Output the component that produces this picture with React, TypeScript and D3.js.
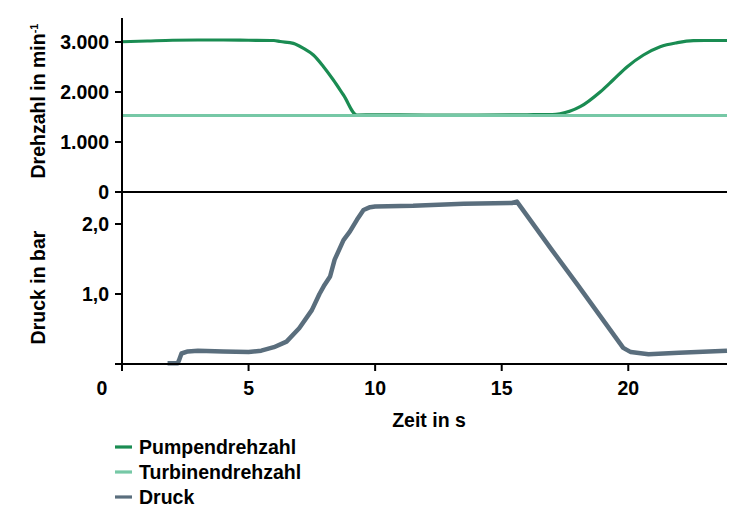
import React from "react";
import * as d3 from "d3";

const xTicks = [0, 5, 10, 15, 20];
const topTicks = [0, 1000, 2000, 3000];
const topTickLabels = ["0", "1.000", "2.000", "3.000"];
const bottomTicks = [0, 1, 2];
const bottomTickLabels = ["", "1,0", "2,0"];

const pumpT = [0, 1, 2, 3, 4, 5, 6, 6.25, 6.77, 7.17, 7.56, 7.96, 8.35, 8.75, 9.28, 10, 12, 14, 16, 17.0, 17.3, 18.1, 18.9, 19.4, 19.96, 20.6, 21.26, 21.94, 22.57, 23.0, 23.9];
const pumpV = [3005, 3020, 3035, 3040, 3040, 3035, 3030, 3010, 2973, 2873, 2740, 2506, 2240, 1940, 1540, 1545, 1540, 1540, 1545, 1550, 1565, 1706, 2006, 2240, 2506, 2740, 2906, 2986, 3026, 3030, 3030];

const turbT = [0, 23.9];
const turbV = [1530, 1530];

const druckT = [1.8, 2.2, 2.25, 2.35, 2.6, 3, 4, 5, 5.5, 6, 6.5, 7, 7.5, 7.8, 8.0, 8.22, 8.4, 8.75, 9.0, 9.28, 9.54, 9.8, 10, 11.5, 13.5, 15.4, 15.6, 16.1, 17, 18, 19, 19.5, 19.8, 20.1, 20.8, 22, 23.9];
const druckV = [0.01, 0.01, 0.05, 0.15, 0.18, 0.19, 0.18, 0.17, 0.19, 0.24, 0.32, 0.51, 0.77, 1.0, 1.13, 1.25, 1.49, 1.77, 1.89, 2.06, 2.2, 2.24, 2.25, 2.26, 2.29, 2.3, 2.32, 2.07, 1.62, 1.13, 0.63, 0.38, 0.23, 0.17, 0.14, 0.16, 0.19];

const legendNames = ["Pumpendrehzahl", "Turbinendrehzahl", "Druck"];
const legendColors = ["#1a8c52", "#76c8a6", "#5a6e7d"];

const FONT = "'Liberation Sans', Arial, Helvetica, sans-serif";
const FS = 19.5;

export default function App() {
  const x = d3.scaleLinear().domain([0, 23.9]).range([122, 727]);
  const yTop = d3.scaleLinear().domain([0, 3480]).range([192, 18]);
  const yBot = d3.scaleLinear().domain([0, 2.457]).range([364, 192]);

  const mk = (ts: number[], vs: number[], ys: d3.ScaleLinear<number, number>, curve: d3.CurveFactory) =>
    d3
      .line<number>()
      .x((t) => x(t))
      .y((_, i) => ys(vs[i]))
      .curve(curve)(ts) as string;

  const pumpPath = mk(pumpT, pumpV, yTop, d3.curveMonotoneX);
  const turbPath = mk(turbT, turbV, yTop, d3.curveLinear);
  const druckPath = mk(druckT, druckV, yBot, d3.curveLinear);

  const x0 = x(0);
  const xEnd = x(23.9);

  return (
    <svg
      width={730}
      height={508}
      style={{ position: "absolute", left: 0, top: 0, background: "#fff" }}
      fontFamily={FONT}
      fontWeight="bold"
    >
      <path d={pumpPath} fill="none" stroke={legendColors[0]} strokeWidth={3.2} strokeLinejoin="round" />
      <path d={turbPath} fill="none" stroke={legendColors[1]} strokeWidth={3.2} />
      <path d={druckPath} fill="none" stroke={legendColors[2]} strokeWidth={4.5} strokeLinejoin="round" />

      <line x1={x0} x2={x0} y1={yTop(3480)} y2={371} stroke="#000" strokeWidth={2} />
      <line x1={115} x2={xEnd} y1={yTop(0)} y2={yTop(0)} stroke="#000" strokeWidth={2} />
      <line x1={115} x2={xEnd} y1={yBot(0)} y2={yBot(0)} stroke="#000" strokeWidth={2} />

      {topTicks.map((t, i) => (
        <g key={"tt" + i}>
          <line x1={115} x2={x0} y1={yTop(t)} y2={yTop(t)} stroke="#000" strokeWidth={2} />
          <text x={109} y={yTop(t)} dy="0.36em" textAnchor="end" fontSize={FS}>
            {topTickLabels[i]}
          </text>
        </g>
      ))}
      {bottomTicks.map((t, i) => (
        <g key={"bt" + i}>
          <line x1={115} x2={x0} y1={yBot(t)} y2={yBot(t)} stroke="#000" strokeWidth={2} />
          <text x={109} y={yBot(t)} dy="0.36em" textAnchor="end" fontSize={FS}>
            {bottomTickLabels[i]}
          </text>
        </g>
      ))}
      {xTicks.map((t) => (
        <g key={"xt" + t}>
          <line x1={x(t)} x2={x(t)} y1={yBot(0)} y2={371} stroke="#000" strokeWidth={2} />
          <text x={t === 0 ? x(t) - 20 : x(t)} y={395} textAnchor="middle" fontSize={FS}>
            {t}
          </text>
        </g>
      ))}

      <text x={429} y={427} textAnchor="middle" fontSize={FS}>
        Zeit in s
      </text>
      <text transform="translate(45,101) rotate(-90)" textAnchor="middle" fontSize={FS}>
        Drehzahl in min
        <tspan fontSize={11} dy={-7}>
          -1
        </tspan>
      </text>
      <text transform="translate(45,287.5) rotate(-90)" textAnchor="middle" fontSize={FS}>
        Druck in bar
      </text>

      {legendNames.map((n, i) => (
        <g key={n}>
          <line x1={115} x2={132} y1={447 + i * 25} y2={447 + i * 25} stroke={legendColors[i]} strokeWidth={3.2} />
          <text x={139} y={454 + i * 25} fontSize={FS}>
            {n}
          </text>
        </g>
      ))}
    </svg>
  );
}
